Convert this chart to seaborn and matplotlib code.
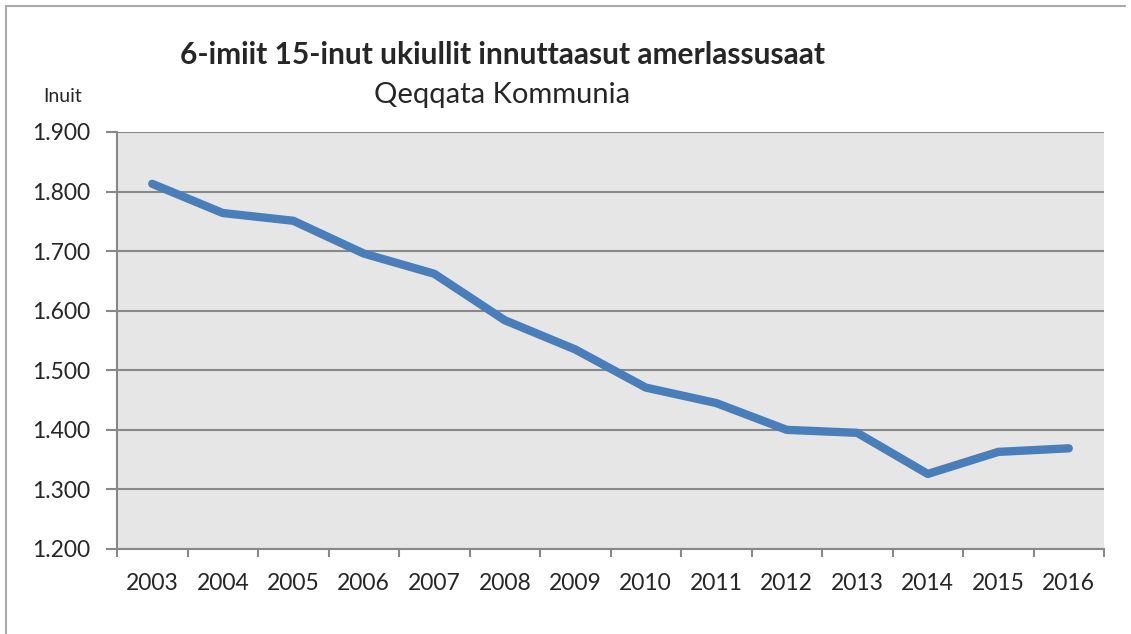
import numpy as np
import pandas as pd
import matplotlib
matplotlib.use('Agg')
import matplotlib.pyplot as plt
import seaborn as sns
from matplotlib.ticker import FuncFormatter, FixedLocator

# Data
years = [2003, 2004, 2005, 2006, 2007, 2008, 2009, 2010, 2011, 2012, 2013, 2014, 2015, 2016]
inuit = [1813, 1764, 1751, 1696, 1662, 1584, 1535, 1471, 1445, 1400, 1395, 1326, 1363, 1369]
y_ticks = [1200, 1300, 1400, 1500, 1600, 1700, 1800, 1900]

title = '6-imiit 15-inut ukiullit innuttaasut amerlassusaat'
subtitle = 'Qeqqata Kommunia'
y_label = 'Inuit'

df = pd.DataFrame({'year': years, 'inuit': inuit})

sns.set_style('white')
plt.rcParams['font.family'] = ['Lato', 'DejaVu Sans']

fig = plt.figure(figsize=(11.31, 6.34), dpi=100)
ax = fig.add_axes([117 / 1131, 85 / 634, 987 / 1131, 417 / 634])
ax.set_facecolor('#e6e6e6')

sns.lineplot(data=df, x='year', y='inuit', ax=ax, color='#4a7ebb',
             linewidth=6, solid_capstyle='round', solid_joinstyle='round', zorder=3)

ax.set_xlim(years[0] - 0.5, years[-1] + 0.5)
ax.set_ylim(y_ticks[0], y_ticks[-1])
ax.set_yticks(y_ticks)
ax.yaxis.set_major_formatter(FuncFormatter(lambda v, p: f'{int(v):,}'.replace(',', '.')))
ax.set_xticks(years)
ax.set_xticklabels([str(y) for y in years])
ax.xaxis.set_minor_locator(FixedLocator([y - 0.5 for y in years] + [years[-1] + 0.5]))

ax.grid(axis='y', color='#888888', linewidth=1.5, zorder=1)
ax.set_axisbelow(True)
for s in ['top', 'right']:
    ax.spines[s].set_visible(False)
for s in ['left', 'bottom']:
    ax.spines[s].set_color('#888888')
    ax.spines[s].set_linewidth(1.5)

ax.tick_params(axis='y', which='major', length=8, width=1.5, color='#888888',
               labelsize=16.5, pad=11, left=True)
ax.tick_params(axis='x', which='major', length=0, labelsize=16.5, pad=17)
ax.tick_params(axis='x', which='minor', length=5.5, width=1.5, color='#888888', bottom=True)
ax.set_xlabel('')
ax.set_ylabel('')

fig.text(502 / 1131, 1 - 55 / 634, title, ha='center', va='center',
         fontsize=21.5, fontweight='bold')
fig.text(502 / 1131, 1 - 95 / 634, subtitle, ha='center', va='center', fontsize=21)
fig.text(63 / 1131, 1 - 97 / 634, y_label, ha='center', va='center', fontsize=14)

# chart frame
fig.add_artist(plt.Line2D([6 / 1131, 6 / 1131], [0, 1 - 6 / 634], color='#aaaaaa', linewidth=1.5))
fig.add_artist(plt.Line2D([6 / 1131, 1125 / 1131], [1 - 6 / 634, 1 - 6 / 634], color='#aaaaaa', linewidth=1.5))

fig.savefig('out.png', dpi=100)
